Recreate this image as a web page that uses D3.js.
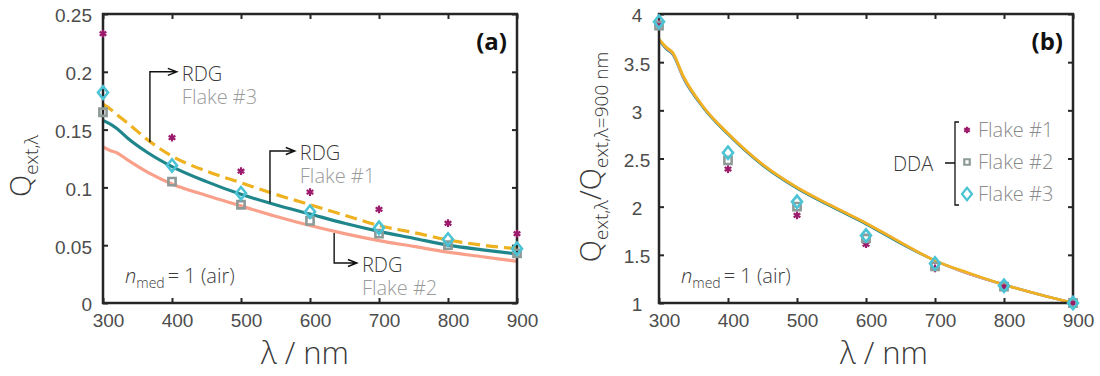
<!DOCTYPE html>
<html>
<head>
<meta charset="utf-8">
<script src="https://cdn.jsdelivr.net/npm/d3@7"></script>
<style>
  body { margin: 0; background: #fff; }
  svg { font-family: "Open Sans", "Noto Sans", sans-serif; font-weight: 300; }
  .tick text { fill: #4d4d4d; font-size: 19px; font-weight: 300; }
  .tick line { stroke: #262626; stroke-width: 2; }
  .domain { display: none; }
</style>
</head>
<body>
<div id="chart"></div>
<script>
// RDG curves (panel a) and their ratio to 900 nm (panel b)
const lambdaRDG = [300, 310, 320, 335, 365, 400, 450, 500, 550, 600, 650, 700, 750, 800, 850, 900];
const rdgFlake1 = [0.158, 0.155, 0.151, 0.143, 0.130, 0.118, 0.105, 0.094, 0.085, 0.077, 0.069, 0.062, 0.056, 0.050, 0.046, 0.0425];
const rdgFlake2 = [0.135, 0.132, 0.130, 0.124, 0.113, 0.103, 0.093, 0.084, 0.075, 0.067, 0.060, 0.054, 0.049, 0.044, 0.040, 0.036];
const rdgFlake3 = [0.172, 0.168, 0.163, 0.156, 0.141, 0.127, 0.114, 0.104, 0.094, 0.085, 0.076, 0.067, 0.061, 0.0545, 0.050, 0.047];
const ratioRdg1 = [3.73, 3.64, 3.58, 3.34, 3.02, 2.75, 2.43, 2.19, 2.00, 1.82, 1.62, 1.44, 1.30, 1.19, 1.09, 1.0];
const ratioRdg2 = [3.74, 3.65, 3.59, 3.35, 3.03, 2.76, 2.44, 2.20, 2.01, 1.83, 1.63, 1.44, 1.30, 1.19, 1.09, 1.0];
const ratioRdg3 = [3.74, 3.66, 3.60, 3.36, 3.03, 2.76, 2.44, 2.20, 2.01, 1.83, 1.63, 1.44, 1.31, 1.19, 1.09, 1.0];

// DDA points
const lambdaDDA = [300, 400, 500, 600, 700, 800, 900];
const ddaFlake1 = [0.233, 0.143, 0.114, 0.096, 0.081, 0.069, 0.060];
const ddaFlake2 = [0.165, 0.105, 0.085, 0.071, 0.060, 0.050, 0.043];
const ddaFlake3 = [0.182, 0.119, 0.095, 0.079, 0.065, 0.055, 0.047];
const ratioDda1 = [3.90, 2.39, 1.91, 1.61, 1.36, 1.17, 1.0];
const ratioDda2 = [3.88, 2.48, 2.00, 1.67, 1.38, 1.17, 1.0];
const ratioDda3 = [3.92, 2.56, 2.05, 1.70, 1.41, 1.18, 1.0];

const xTicks = [300, 400, 500, 600, 700, 800, 900];
const yTicksA = [0, 0.05, 0.1, 0.15, 0.2, 0.25];
const yTicksB = [1, 1.5, 2, 2.5, 3, 3.5, 4];

const colTeal = '#1f868c', colSalmon = '#f9a08b', colYellow = '#eeb11f';
const colPurple = '#9c1a6b', colGrey = '#8d9a98', colCyan = '#4cc3d4';

const width = 1100, height = 376;
const svg = d3.select('#chart').append('svg')
    .attr('width', width)
    .attr('height', height);

// open diamond like matlab 'd'
const diamondType = {
    draw(ctx, size) {
        const w = 5, h = 6.2;
        ctx.moveTo(0, -h); ctx.lineTo(w, 0); ctx.lineTo(0, h); ctx.lineTo(-w, 0); ctx.closePath();
    }
};

function drawPanel(p) {
    const x = d3.scaleLinear().domain([300, 900]).range([p.left, p.right]);
    const y = d3.scaleLinear().domain(p.yDomain).range([303, 14]);
    const g = svg.append('g');

    // ticks inside, labels outside
    g.append('g').attr('transform', 'translate(0,303)')
        .call(d3.axisBottom(x).tickValues(xTicks).tickSize(-5).tickPadding(11).tickFormat(d3.format('d')))
        .selectAll('text').attr('dx', 5);
    g.append('g').attr('transform', 'translate(0,14)')
        .call(d3.axisTop(x).tickValues(xTicks).tickSize(-5).tickFormat(''));
    let ya = g.append('g').attr('transform', 'translate(' + p.left + ',0)')
        .call(d3.axisLeft(y).tickValues(p.yTicks).tickSize(-5).tickPadding(11).tickFormat(d => String(+d.toFixed(2))));
    ya.selectAll('text').attr('dy', '0.42em');
    if (p.centerLabels) {
        ya.selectAll('text').attr('x', -22).attr('text-anchor', 'middle');
    }
    g.append('g').attr('transform', 'translate(' + p.right + ',0)')
        .call(d3.axisRight(y).tickValues(p.yTicks).tickSize(-5).tickFormat(''));

    // curves
    p.curves.forEach(c => {
        const line = d3.line().x((d, i) => x(lambdaRDG[i])).y(d => y(d)).curve(d3.curveMonotoneX);
        g.append('path')
            .attr('d', line(c.values))
            .attr('fill', 'none')
            .attr('stroke', c.color)
            .attr('stroke-width', p.lineWidth)
            .attr('stroke-dasharray', c.dash || null);
    });

    // frame
    g.append('rect')
        .attr('x', p.left).attr('y', 14)
        .attr('width', p.right - p.left).attr('height', 289)
        .attr('fill', 'none').attr('stroke', '#262626').attr('stroke-width', 2.5);

    // DDA markers
    const sets = [
        { values: p.dda[0], type: d3.symbolAsterisk, size: 42, color: colPurple, fill: colPurple, sw: 2.2 },
        { values: p.dda[1], type: d3.symbolSquare, size: 52, color: colGrey, fill: 'none', sw: 2.6 },
        { values: p.dda[2], type: diamondType, size: 60, color: colCyan, fill: 'none', sw: 2.6 }
    ];
    sets.forEach(s => {
        g.append('g').selectAll('path')
            .data(s.values)
            .enter().append('path')
            .attr('transform', (d, i) => 'translate(' + x(lambdaDDA[i]) + ',' + y(d) + ')')
            .attr('d', d3.symbol().type(s.type).size(s.size))
            .attr('fill', s.fill)
            .attr('stroke', s.color)
            .attr('stroke-width', s.sw);
    });

    // axis titles
    g.append('text')
        .attr('x', p.xLabelX).attr('y', 364)
        .attr('text-anchor', 'middle')
        .attr('font-size', 31).attr('fill', '#3a3a3a')
        .text('λ / nm');

    const yl = g.append('text')
        .attr('transform', 'translate(' + p.yLabelX + ',' + p.yLabelY + ') rotate(-90)')
        .attr('text-anchor', 'middle').attr('fill', '#3a3a3a');
    p.yLabel.forEach(part => {
        yl.append('tspan').attr('font-size', part.sub ? 19 : 29)
            .attr('dy', part.dy).text(part.t);
    });

    // n_med
    const nt = g.append('text').attr('x', p.left + 22).attr('y', 283).attr('fill', '#3a3a3a').attr('font-size', 20);
    nt.append('tspan').attr('font-style', 'italic').text('n');
    nt.append('tspan').attr('font-size', 14).attr('dy', 5).text('med');
    nt.append('tspan').attr('dy', -5).attr('dx', 3).text('= 1 (air)');

    // panel letter
    g.append('text')
        .attr('x', p.right - 10).attr('y', 50)
        .attr('text-anchor', 'end')
        .attr('font-size', 24).attr('font-weight', 700).attr('fill', '#111')
        .text(p.letter);

    return { x, y, g };
}

const a = drawPanel({
    left: 103, right: 517, yDomain: [0, 0.25], yTicks: yTicksA, lineWidth: 3.2,
    curves: [
        { values: rdgFlake2, color: colSalmon },
        { values: rdgFlake1, color: colTeal },
        { values: rdgFlake3, color: colYellow, dash: '12,6' }
    ],
    dda: [ddaFlake1, ddaFlake2, ddaFlake3],
    xLabelX: 305, yLabelX: 31, yLabelY: 166,
    yLabel: [{ t: 'Q' }, { t: 'ext,λ', sub: true, dy: 7 }],
    letter: '(a)'
});

const b = drawPanel({
    left: 659, right: 1073, yDomain: [1, 4], yTicks: yTicksB, lineWidth: 2.6, centerLabels: true,
    curves: [
        { values: ratioRdg1, color: colTeal },
        { values: ratioRdg2, color: colSalmon },
        { values: ratioRdg3, color: colYellow }
    ],
    dda: [ratioDda1, ratioDda2, ratioDda3],
    xLabelX: 884, yLabelX: 601, yLabelY: 157,
    yLabel: [{ t: 'Q' }, { t: 'ext,λ', sub: true, dy: 7 }, { t: '/Q', dy: -7 }, { t: 'ext,λ=900 nm', sub: true, dy: 7 }],
    letter: '(b)'
});

// RDG annotations with elbow arrows (panel a)
const notes = [
    { l0: 368, v0: 0.139, v1: 0.2, l1: 407, name: 'Flake #3' },
    { l0: 542, v0: 0.087, v1: 0.1315, l1: 578, name: 'Flake #1' },
    { l0: 635, v0: 0.0605, v1: 0.0346, l1: 668, name: 'Flake #2' }
];
notes.forEach(n => {
    const x0 = a.x(n.l0), y0 = a.y(n.v0), y1 = a.y(n.v1), x1 = a.x(n.l1);
    a.g.append('path')
        .attr('d', 'M' + x0 + ',' + y0 + 'V' + y1 + 'H' + x1 +
            'M' + (x1 - 9) + ',' + (y1 - 3.5) + 'L' + x1 + ',' + y1 + 'L' + (x1 - 9) + ',' + (y1 + 3.5))
        .attr('fill', 'none').attr('stroke', '#111').attr('stroke-width', 1.4);
    a.g.append('text').attr('x', x1 + 5).attr('y', y1 + 9)
        .attr('font-size', 20).attr('fill', '#3a3a3a').text('RDG');
    a.g.append('text').attr('x', x1 + 5).attr('y', y1 + 32)
        .attr('font-size', 20).attr('fill', '#9a9a9a').text(n.name);
});

// DDA legend (panel b)
const legendNames = ['Flake #1', 'Flake #2', 'Flake #3'];
const legendTypes = [d3.symbolAsterisk, d3.symbolSquare, diamondType];
const legendCols = [colPurple, colGrey, colCyan];
const lg = b.g.append('g');
lg.append('path')
    .attr('d', 'M959,122H955V205H959M955,163H945')
    .attr('fill', 'none').attr('stroke', '#111').attr('stroke-width', 1.3);
lg.append('text').attr('x', 893).attr('y', 171).attr('font-size', 20).attr('fill', '#3a3a3a').text('DDA');
legendNames.forEach((name, i) => {
    const yy = 130 + i * 32;
    lg.append('path')
        .attr('transform', 'translate(967,' + yy + ')')
        .attr('d', d3.symbol().type(legendTypes[i]).size(30))
        .attr('fill', i == 0 ? colPurple : 'none')
        .attr('stroke', legendCols[i]).attr('stroke-width', 2.2);
    lg.append('text').attr('x', 978).attr('y', yy + 7)
        .attr('font-size', 20).attr('fill', '#8a8a8a').text(name);
});
</script>
</body>
</html>
